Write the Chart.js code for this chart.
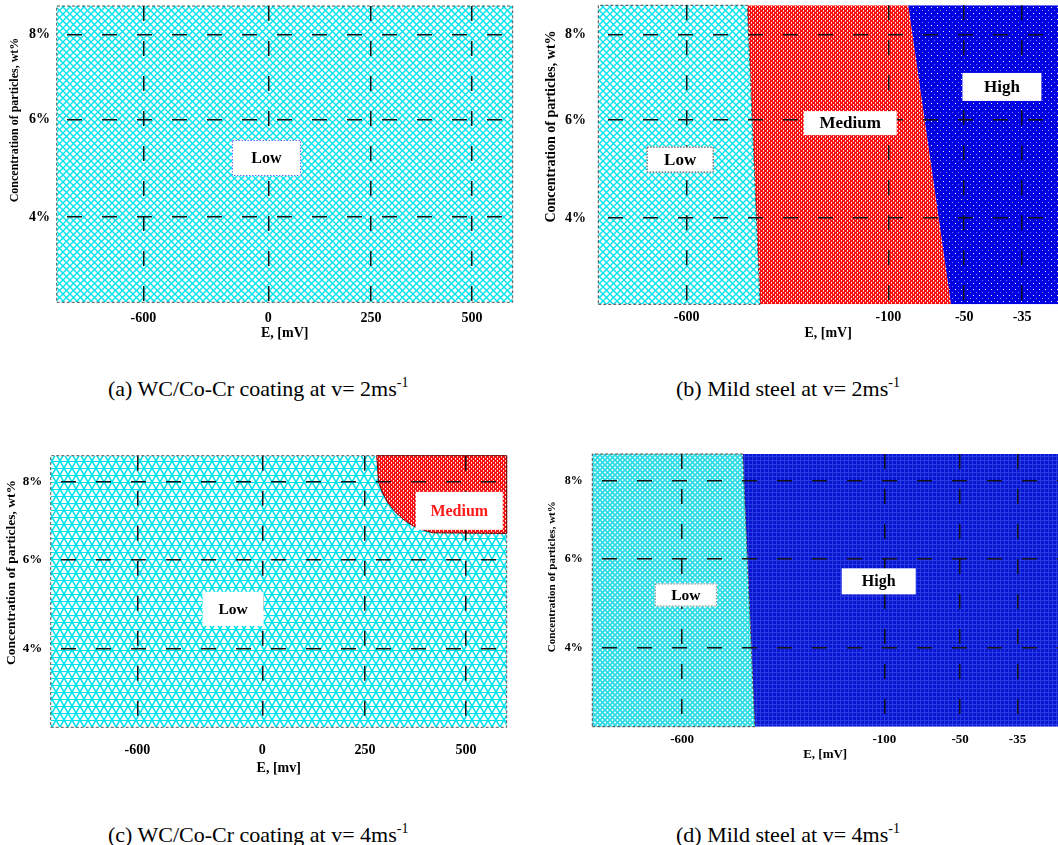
<!DOCTYPE html>
<html>
<head>
<meta charset="utf-8">
<script src="https://cdn.jsdelivr.net/npm/chart.js@4.4.1/dist/chart.umd.min.js"></script>
<style>
  html, body { margin: 0; padding: 0; background: #fff; width: 1058px; height: 845px; overflow: hidden; }
  .panel { position: absolute; }
  .panel canvas { display: block; }
  .cap { position: absolute; font-family: 'Liberation Serif', 'Times New Roman', serif; font-size: 22px;
         line-height: 22px; color: #000; white-space: nowrap; }
  .cap sup { font-size: 14px; line-height: 0; vertical-align: 9px; }
</style>
</head>
<body>
<div class="panel" style="left:0px;top:0px;"><canvas id="ca" width="540" height="345"></canvas></div>
<div class="panel" style="left:540px;top:0px;"><canvas id="cb" width="518" height="345"></canvas></div>
<div class="panel" style="left:0px;top:440px;"><canvas id="cc" width="540" height="345"></canvas></div>
<div class="panel" style="left:540px;top:440px;"><canvas id="cd" width="518" height="345"></canvas></div>

<div class="cap" style="left:108px;top:378px;">(a) WC/Co-Cr coating at v= 2ms<sup>-1</sup></div>
<div class="cap" style="left:676px;top:378px;">(b) Mild steel at v= 2ms<sup>-1</sup></div>
<div class="cap" style="left:108px;top:824px;">(c) WC/Co-Cr coating at v= 4ms<sup>-1</sup></div>
<div class="cap" style="left:676px;top:824px;">(d) Mild steel at v= 4ms<sup>-1</sup></div>

<script>
// ---------------- DATA ----------------
// Axes are qualitative (non-linear): values below are positions along each axis, 0-100 % of its length.
const xTickLabelsWC = ['-600', '0', '250', '500'];          // E, [mV] for WC/Co-Cr coating
const xTickPosWC    = [19.0, 46.4, 68.9, 91.1];
const xTickLabelsMS = ['-600', '-100', '-50', '-35'];        // E, [mV] for mild steel
const xTickPosMSb   = [19.2, 63.1, 79.6, 92.2];
const xTickPosMSd   = [19.3, 62.7, 79.0, 91.3];
const yTickLabels   = ['4%', '6%', '8%'];                    // concentration of particles
const yTickPos      = [28.8, 61.6, 90.3];

// (a) WC/Co-Cr, v = 2 m/s : whole map is "Low"
const lowA_x = [0, 100, 100, 0, 0];
const lowA_y = [0, 0, 100, 100, 0];

// (b) Mild steel, v = 2 m/s
const lowB_x  = [0, 35.2, 32.4, 0, 0];
const lowB_y  = [0, 0, 100, 100, 0];
const medB_x  = [35.2, 76.7, 67.4, 32.4, 35.2];
const medB_y  = [0, 0, 100, 100, 0];
const highB_x = [76.7, 100, 100, 67.4, 76.7];
const highB_y = [0, 0, 100, 100, 0];

// (c) WC/Co-Cr, v = 4 m/s
const lowC_x = [0, 100, 100, 0, 0];
const lowC_y = [0, 0, 100, 100, 0];
const medC_x = [71.5, 71.9, 72.8, 74.0, 75.5, 77.5, 79.5, 81.7, 83.8, 100, 100, 71.5];
const medC_y = [100, 90.2, 86.2, 82.5, 79.4, 76.3, 74.1, 72.6, 71.6, 71.4, 100, 100];

// (d) Mild steel, v = 4 m/s
const lowD_x  = [0, 34.9, 32.3, 0, 0];
const lowD_y  = [0, 0, 100, 100, 0];
const highD_x = [34.9, 100, 100, 32.3, 34.9];
const highD_y = [0, 0, 100, 100, 0];

// region labels (text, x, y in axis units)
const labelsA_text = ['Low'];            const labelsA_x = [46.0];             const labelsA_y = [48.7];
const labelsB_text = ['Low', 'Medium', 'High']; const labelsB_x = [17.8, 54.8, 87.8]; const labelsB_y = [48.4, 60.6, 72.7];
const labelsC_text = ['Low', 'Medium'];  const labelsC_x = [40.0, 89.6];       const labelsC_y = [43.6, 79.7];
const labelsD_text = ['Low', 'High'];    const labelsD_x = [20.1, 61.5];       const labelsD_y = [48.3, 53.3];

// ---------------- STYLES ----------------
const SERIF = "'Liberation Serif', 'Times New Roman', serif";
Chart.defaults.font.family = SERIF;
Chart.defaults.font.weight = 'bold';
Chart.defaults.color = '#000';

function makeTile(w, h, draw) {
  const c = document.createElement('canvas');
  c.width = w; c.height = h;
  const g = c.getContext('2d');
  draw(g, w, h);
  return g.createPattern(c, 'repeat');
}
function wrapped(g, w, h, fn) {
  for (const dx of [-w, 0, w]) for (const dy of [-h, 0, h]) fn(dx, dy);
}
function diamond(p, lw, col) {
  return makeTile(p, p, (g, w, h) => {
    g.fillStyle = '#fff'; g.fillRect(0, 0, w, h);
    g.strokeStyle = col; g.lineWidth = lw;
    wrapped(g, w, h, (dx, dy) => {
      g.beginPath();
      g.moveTo(dx, dy); g.lineTo(dx + w, dy + h);
      g.moveTo(dx + w, dy); g.lineTo(dx, dy + h);
      g.stroke();
    });
  });
}
const patCyanA = diamond(7, 1.4, '#00E4EE');
const patCyanD = diamond(5, 1.9, '#30DCE6');
const patTri = makeTile(8, 14, (g, w, h) => {
  g.fillStyle = '#fff'; g.fillRect(0, 0, w, h);
  g.strokeStyle = '#00E2EE'; g.lineWidth = 1.6;
  wrapped(g, w, h, (dx, dy) => {
    g.beginPath();
    g.moveTo(dx, dy); g.lineTo(dx + w, dy + h);
    g.moveTo(dx + w, dy); g.lineTo(dx, dy + h);
    g.stroke();
  });
  g.fillStyle = '#00E2EE';
  g.fillRect(0, 0, w, 1); g.fillRect(0, 7, w, 1);
});
const patRed = makeTile(4, 4, (g, w, h) => {
  g.fillStyle = '#F81010'; g.fillRect(0, 0, w, h);
  g.fillStyle = '#ffffff'; g.fillRect(1, 0, 1, 1); g.fillRect(3, 2, 1, 1);
  g.fillStyle = '#ff9a9a'; g.fillRect(1, 1, 1, 1); g.fillRect(3, 3, 1, 1);
});
const patBlueB = makeTile(6, 6, (g, w, h) => {
  g.fillStyle = '#0000E2'; g.fillRect(0, 0, w, h);
  g.fillStyle = '#ffffff'; g.fillRect(1, 1, 1, 1);
  g.fillStyle = '#7a7aff'; g.fillRect(4, 4, 1, 1);
});
const patBlueD = makeTile(4, 4, (g, w, h) => {
  g.fillStyle = '#0816D2'; g.fillRect(0, 0, w, h);
  g.fillStyle = '#2a3ce4'; g.fillRect(0, 0, w, 1); g.fillRect(0, 0, 1, h);
});

const cyanBorder = { color: '#444', width: 1, dash: [3, 2] };

// ---------------- PLUGINS ----------------
const overlayPlugin = {
  id: 'overlay',
  afterDraw(chart, args, o) {
    const ctx = chart.ctx;
    const xs = chart.scales.x, ys = chart.scales.y;
    // region labels
    o.text.forEach((t, i) => {
      const st = o.boxes[i];
      const px = xs.getPixelForValue(o.xs[i]);
      const py = ys.getPixelForValue(o.ys[i]);
      ctx.save();
      ctx.fillStyle = '#fff';
      ctx.fillRect(px - st.w / 2, py - st.h / 2, st.w, st.h);
      if (st.border) {
        ctx.setLineDash([1.5, 1.5]);
        ctx.strokeStyle = st.border; ctx.lineWidth = 1;
        ctx.strokeRect(px - st.w / 2 + 0.5, py - st.h / 2 + 0.5, st.w - 1, st.h - 1);
        ctx.setLineDash([]);
      }
      ctx.fillStyle = st.color || '#000';
      ctx.font = 'bold ' + st.font + 'px ' + SERIF;
      ctx.textAlign = 'center'; ctx.textBaseline = 'middle';
      ctx.fillText(t, px, py + 1);
      ctx.restore();
    });
    // y-axis title
    const yt = o.yTitle;
    ctx.save();
    ctx.translate(yt.cx, yt.cy);
    ctx.rotate(-Math.PI / 2);
    ctx.font = 'bold ' + yt.size + 'px ' + SERIF;
    ctx.fillStyle = '#000';
    ctx.textAlign = 'center'; ctx.textBaseline = 'middle';
    ctx.fillText('Concentration of particles, wt%', 0, 0);
    ctx.restore();
  }
};

function pts(xs, ys) { return xs.map((x, i) => ({ x: x, y: ys[i] })); }

function region(xs, ys, pattern, border) {
  return {
    data: pts(xs, ys),
    fill: 'shape',
    backgroundColor: pattern,
    borderColor: border ? border.color : 'rgba(0,0,0,0)',
    borderWidth: border ? border.width : 0,
    borderDash: border ? border.dash : [],
    pointRadius: 0,
    pointHoverRadius: 0,
    tension: 0,
    clip: 3
  };
}

function makeChart(id, c) {
  return new Chart(document.getElementById(id), {
    type: 'line',
    data: { datasets: c.regions },
    options: {
      responsive: false,
      animation: false,
      devicePixelRatio: 1,
      events: [],
      layout: { padding: c.pad },
      plugins: {
        legend: { display: false },
        tooltip: { enabled: false },
        overlay: c.overlay
      },
      scales: {
        x: {
          type: 'linear', min: 0, max: 100, position: 'bottom',
          afterBuildTicks: s => { s.ticks = c.xPos.map(v => ({ value: v })); },
          afterFit: s => { s.height = c.xAxisH; s.paddingLeft = 0; s.paddingRight = 0; },
          ticks: {
            autoSkip: false, maxRotation: 0, minRotation: 0, padding: c.xTickPad,
            font: { size: c.xFont, weight: 'bold' }, color: '#000',
            callback: (v, i) => c.xLabels[i]
          },
          grid: { z: 1, drawTicks: false, color: '#151515', lineWidth: 1.5 },
          border: { display: false, dash: [15, 20], dashOffset: 0 },
          title: {
            display: true, text: c.xTitle, color: '#000',
            font: { size: c.xTitleFont, weight: 'bold' },
            padding: { top: 0, bottom: c.xTitlePad }
          }
        },
        y: {
          type: 'linear', min: 0, max: 100, position: 'left',
          afterBuildTicks: s => { s.ticks = yTickPos.map(v => ({ value: v })); },
          afterFit: s => { s.width = c.yAxisW; s.paddingTop = 0; s.paddingBottom = 0; },
          ticks: {
            autoSkip: false, padding: c.yTickPad,
            font: { size: c.yFont, weight: 'bold' }, color: '#000',
            callback: (v, i) => yTickLabels[i]
          },
          grid: { z: 1, drawTicks: false, color: '#151515', lineWidth: 1.5 },
          border: { display: false, dash: [15, 20], dashOffset: 25 },
          title: { display: false }
        }
      }
    },
    plugins: [overlayPlugin]
  });
}

// (a)
makeChart('ca', {
  regions: [region(lowA_x, lowA_y, patCyanA, { color: '#555', width: 1, dash: [3, 2] })],
  pad: { top: 6, right: 27.3, bottom: 0, left: 0 },
  xAxisH: 42.7, yAxisW: 56.7,
  xPos: xTickPosWC, xLabels: xTickLabelsWC,
  xTickPad: 7.3, xFont: 14, xTitle: 'E, [mV]', xTitleFont: 14, xTitlePad: 3.6,
  yTickPad: 6.7, yFont: 14,
  overlay: {
    text: labelsA_text, xs: labelsA_x, ys: labelsA_y,
    boxes: [{ w: 69, h: 36, font: 16, border: '#6a6aff' }],
    yTitle: { cx: 15, cy: 120, size: 12 }
  }
});

// (b)
makeChart('cb', {
  regions: [
    region(lowB_x, lowB_y, patCyanA, cyanBorder),
    region(medB_x, medB_y, patRed, null),
    region(highB_x, highB_y, patBlueB, null)
  ],
  pad: { top: 5.3, right: 0, bottom: 0, left: 0 },
  xAxisH: 40.7, yAxisW: 58.3,
  xPos: xTickPosMSb, xLabels: xTickLabelsMS,
  xTickPad: 5, xFont: 14, xTitle: 'E, [mV]', xTitleFont: 14, xTitlePad: 3.6,
  yTickPad: 12.3, yFont: 14,
  overlay: {
    text: labelsB_text, xs: labelsB_x, ys: labelsB_y,
    boxes: [
      { w: 67, h: 26, font: 17, border: '#333' },
      { w: 93, h: 24, font: 17 },
      { w: 79, h: 28, font: 17 }
    ],
    yTitle: { cx: 11.7, cy: 126.5, size: 14 }
  }
});

// (c)
makeChart('cc', {
  regions: [
    region(medC_x, medC_y, patRed, { color: '#700', width: 1, dash: [] }),
    region(lowC_x, lowC_y, patTri, { color: '#555', width: 1, dash: [3, 2] })
  ],
  pad: { top: 15.7, right: 33.3, bottom: 0, left: 0 },
  xAxisH: 57.7, yAxisW: 50.7,
  xPos: xTickPosWC, xLabels: xTickLabelsWC,
  xTickPad: 14.3, xFont: 14, xTitle: 'E, [mv]', xTitleFont: 14, xTitlePad: 8.3,
  yTickPad: 8.4, yFont: 13,
  overlay: {
    text: labelsC_text, xs: labelsC_x, ys: labelsC_y,
    boxes: [
      { w: 61, h: 34, font: 15.5 },
      { w: 87, h: 38, font: 16, color: '#FF1A1A' }
    ],
    yTitle: { cx: 11.7, cy: 132.5, size: 13.5 }
  }
});

// (d)
makeChart('cd', {
  regions: [
    region(lowD_x, lowD_y, patCyanD, cyanBorder),
    region(highD_x, highD_y, patBlueD, null)
  ],
  pad: { top: 14, right: 0, bottom: 0, left: 0 },
  xAxisH: 58.3, yAxisW: 52.3,
  xPos: xTickPosMSd, xLabels: xTickLabelsMS,
  xTickPad: 5.5, xFont: 13, xTitle: 'E, [mV]', xTitleFont: 13, xTitlePad: 22.9,
  yTickPad: 9.6, yFont: 12,
  overlay: {
    text: labelsD_text, xs: labelsD_x, ys: labelsD_y,
    boxes: [
      { w: 62, h: 23, font: 15.5, border: '#888' },
      { w: 74, h: 26, font: 16 }
    ],
    yTitle: { cx: 11.7, cy: 136.7, size: 11 }
  }
});
</script>
</body>
</html>
